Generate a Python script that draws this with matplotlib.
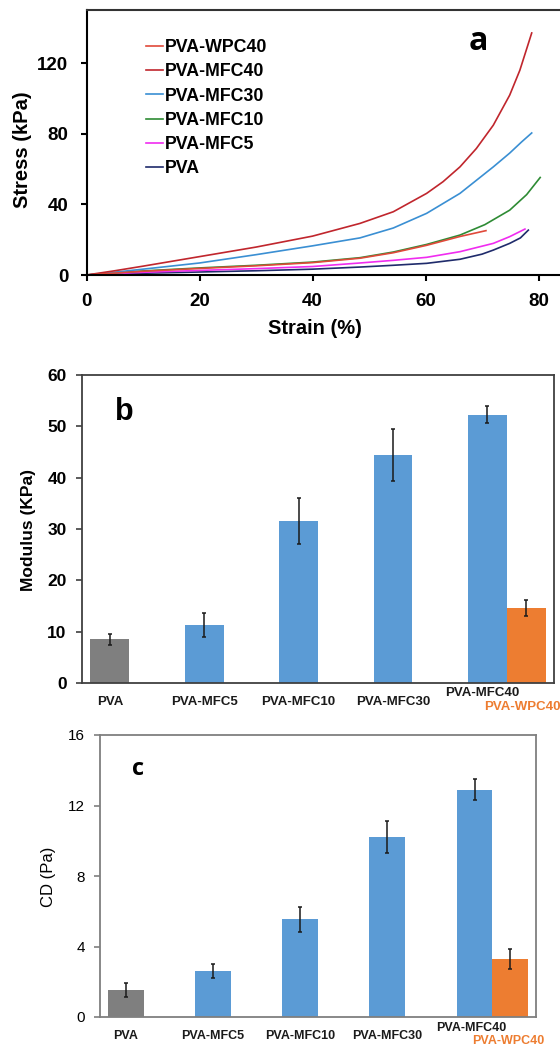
import numpy as np
import matplotlib.pyplot as plt

W, H = 560, 1046

# ---- panel a: stress-strain curves (strain %, stress kPa)
pva_x = [0, 5, 10, 20, 30, 40, 48.4, 54.3, 60.2, 66.1, 70, 72, 74.9, 76.8, 78.2]
pva_y = [0, 0.5, 1, 1.7, 2.4, 3.3, 4.5, 5.5, 6.6, 8.9, 11.8, 14.1, 17.9, 21, 25.4]
mfc5_x = [0, 5, 10, 20, 30, 40, 48.4, 54.3, 60.2, 66.1, 72, 74.9, 77.6]
mfc5_y = [0, 0.8, 1.5, 2.6, 3.6, 4.8, 6.8, 8.3, 10, 13.2, 17.9, 21.7, 26]
mfc10_x = [0, 5, 10, 20, 30, 40, 48.4, 54.3, 60.2, 66.1, 70.5, 74.9, 77.9, 80.3]
mfc10_y = [0, 1.2, 2.3, 4, 5.5, 7.3, 9.8, 13, 17.3, 22.6, 28.5, 36.7, 45.5, 55.2]
mfc30_x = [0, 5, 10, 20, 30, 40, 48.4, 54.3, 60.2, 66.1, 72, 74.9, 77, 78.8]
mfc30_y = [0, 1.6, 3.3, 6.8, 11.5, 16.5, 21, 26.6, 34.9, 46.2, 61.2, 69, 75.3, 80.4]
mfc40_x = [0, 5, 10, 20, 30, 40, 48.4, 54.3, 60.2, 63.1, 66.1, 69, 72, 74.9, 76.7, 78.8]
mfc40_y = [0, 2.4, 5, 10.4, 15.8, 22, 29.2, 35.8, 46.2, 52.8, 61.2, 71.6, 84.8, 101.8, 115.9, 137]
wpc40_x = [0, 5, 10, 20, 30, 40, 48.4, 54.3, 60.2, 66.1, 70.7]
wpc40_y = [0, 1.1, 2.1, 3.7, 5.2, 7.0, 9.5, 12.6, 16.8, 21.8, 25.1]

# ---- panels b, c: bar charts
groups = ['PVA', 'PVA-MFC5', 'PVA-MFC10', 'PVA-MFC30', 'PVA-MFC40']
modulus = [8.5, 11.3, 31.5, 44.4, 52.3]
modulus_err = [1.0, 2.3, 4.5, 5.1, 1.6]
modulus_wpc = 14.6
modulus_wpc_err = 1.6
cd = [1.55, 2.6, 5.55, 10.2, 12.9]
cd_err = [0.4, 0.38, 0.7, 0.9, 0.6]
cd_wpc = 3.3
cd_wpc_err = 0.55


def fx(px):
    return px / W


def fy(py):
    return 1 - py / H


fig = plt.figure(figsize=(W / 100, H / 100), dpi=100)
fig.patch.set_facecolor('white')
plt.rcParams['font.family'] = ['Liberation Sans', 'DejaVu Sans']

# ================= a =================
ax = fig.add_axes([fx(86.5), fy(275), fx(565), 265 / H])
curves = [
    (pva_x, pva_y, '#1f2b6b', 'PVA'),
    (mfc5_x, mfc5_y, '#f02cf0', 'PVA-MFC5'),
    (mfc10_x, mfc10_y, '#2e8b34', 'PVA-MFC10'),
    (mfc30_x, mfc30_y, '#3a8fd3', 'PVA-MFC30'),
    (mfc40_x, mfc40_y, '#c0262d', 'PVA-MFC40'),
    (wpc40_x, wpc40_y, '#e0493a', 'PVA-WPC40'),
]
for xs, ys, c, lab in curves:
    ax.plot(xs, ys, color=c, lw=1.2, label=lab)
ax.set_xlim(0, 100)
ax.set_ylim(0, 150)
ax.set_xticks([0, 20, 40, 60, 80])
ax.set_yticks([0, 40, 80, 120])
ax.spines['right'].set_visible(False)
for s in ['left', 'bottom', 'top']:
    ax.spines[s].set_linewidth(1.5)
ax.spines['top'].set_color('#333333')
ax.tick_params(direction='out', length=4, width=1.5, pad=9, labelsize=13.5)
for t in ax.get_xticklabels() + ax.get_yticklabels():
    t.set_fontweight('bold')
ax.set_ylabel('Stress (kPa)', fontsize=14.5, fontweight='bold', va='center')
ax.yaxis.set_label_coords(fx(23), fy(150), transform=fig.transFigure)
ax.set_xlabel('Strain (%)', fontsize=14.5, fontweight='bold', va='center')
ax.xaxis.set_label_coords(fx(315), fy(329), transform=fig.transFigure)
h, l = ax.get_legend_handles_labels()
ax.legend(h[::-1], l[::-1], loc='upper left', bbox_to_anchor=(fx(146), fy(39)),
          bbox_transform=fig.transFigure, frameon=False, borderpad=0,
          borderaxespad=0, handlelength=0.95, handletextpad=0.12,
          labelspacing=0.41, prop={'weight': 'bold', 'size': 12.8})
fig.text(fx(478), fy(42), 'a', fontsize=23, fontweight='bold',
         family=['Open Sans', 'DejaVu Sans'], ha='center', va='center')


def bar_panel(rect, vals, errs, wval, werr, ylim, yticks, label_y, mfc40_xy,
              wpc_xy, lab_size, tick_bold, tick_size, spine_color):
    ax = fig.add_axes(rect)
    x = np.arange(len(vals))
    bw = 0.41
    colors = ['#7f7f7f'] + ['#5b9bd5'] * (len(vals) - 1)
    ax.bar(x, vals, width=-bw, align='edge', color=colors, zorder=2)
    ax.bar(x[-1], wval, width=bw, align='edge', color='#ed7d31', zorder=2)
    ax.errorbar(x - bw / 2, vals, yerr=errs, fmt='none', ecolor='#1a1a1a',
                elinewidth=1.1, capsize=1.5, capthick=1.1, zorder=3)
    ax.errorbar(x[-1] + bw / 2, wval, yerr=werr, fmt='none', ecolor='#1a1a1a',
                elinewidth=1.1, capsize=1.5, capthick=1.1, zorder=3)
    ax.set_xlim(-0.5, len(vals) - 0.5)
    ax.set_ylim(*ylim)
    ax.set_yticks(yticks)
    ax.set_xticks([])
    for s in ax.spines.values():
        s.set_color(spine_color)
        s.set_linewidth(1.3)
    ax.tick_params(axis='y', direction='out', length=4, width=1.2,
                   color=spine_color, pad=7, labelsize=tick_size)
    if tick_bold:
        for t in ax.get_yticklabels():
            t.set_fontweight('bold')
    tr = ax.get_xaxis_transform()
    for i, g in enumerate(groups[:-1]):
        ax.text(x[i] - bw / 2, label_y, g, transform=tr, ha='center',
                va='center', fontsize=lab_size, fontweight='bold',
                color='#1a1a1a', clip_on=False)
    ax.text(mfc40_xy[0], mfc40_xy[1], groups[-1], transform=fig.transFigure,
            ha='center', va='center', fontsize=lab_size, fontweight='bold',
            color='#1a1a1a')
    ax.text(wpc_xy[0], wpc_xy[1], 'PVA-WPC40', transform=fig.transFigure,
            ha='center', va='center', fontsize=lab_size, fontweight='bold',
            color='#ed7d31')
    return ax


# ================= b =================
axb = bar_panel([fx(82), fy(683), fx(472), 308 / H], modulus, modulus_err,
                modulus_wpc, modulus_wpc_err, (0, 60), range(0, 61, 10),
                -19 / 308, (fx(482), fy(693)), (fx(522), fy(707)),
                9.5, True, 12.5, '#404040')
axb.set_ylabel('Modulus (KPa)', fontsize=12.5, fontweight='bold', va='center')
axb.yaxis.set_label_coords(fx(29), fy(530), transform=fig.transFigure)
fig.text(fx(124), fy(412), 'b', fontsize=22, fontweight='bold',
         ha='center', va='center')

# ================= c =================
axc = bar_panel([fx(100), fy(1017), fx(436), 282 / H], cd, cd_err,
                cd_wpc, cd_wpc_err, (0, 16), [0, 4, 8, 12, 16],
                -19 / 282, (fx(471), fy(1028)), (fx(508), fy(1041)),
                9, False, 11, '#7f7f7f')
axc.set_ylabel('CD (Pa)', fontsize=12, va='center')
axc.yaxis.set_label_coords(fx(48), fy(877), transform=fig.transFigure)
fig.text(fx(138), fy(769), 'c', fontsize=17, fontweight='bold',
         family=['Open Sans', 'DejaVu Sans'], ha='center', va='center')

fig.savefig('out.png', dpi=100, facecolor='white')
